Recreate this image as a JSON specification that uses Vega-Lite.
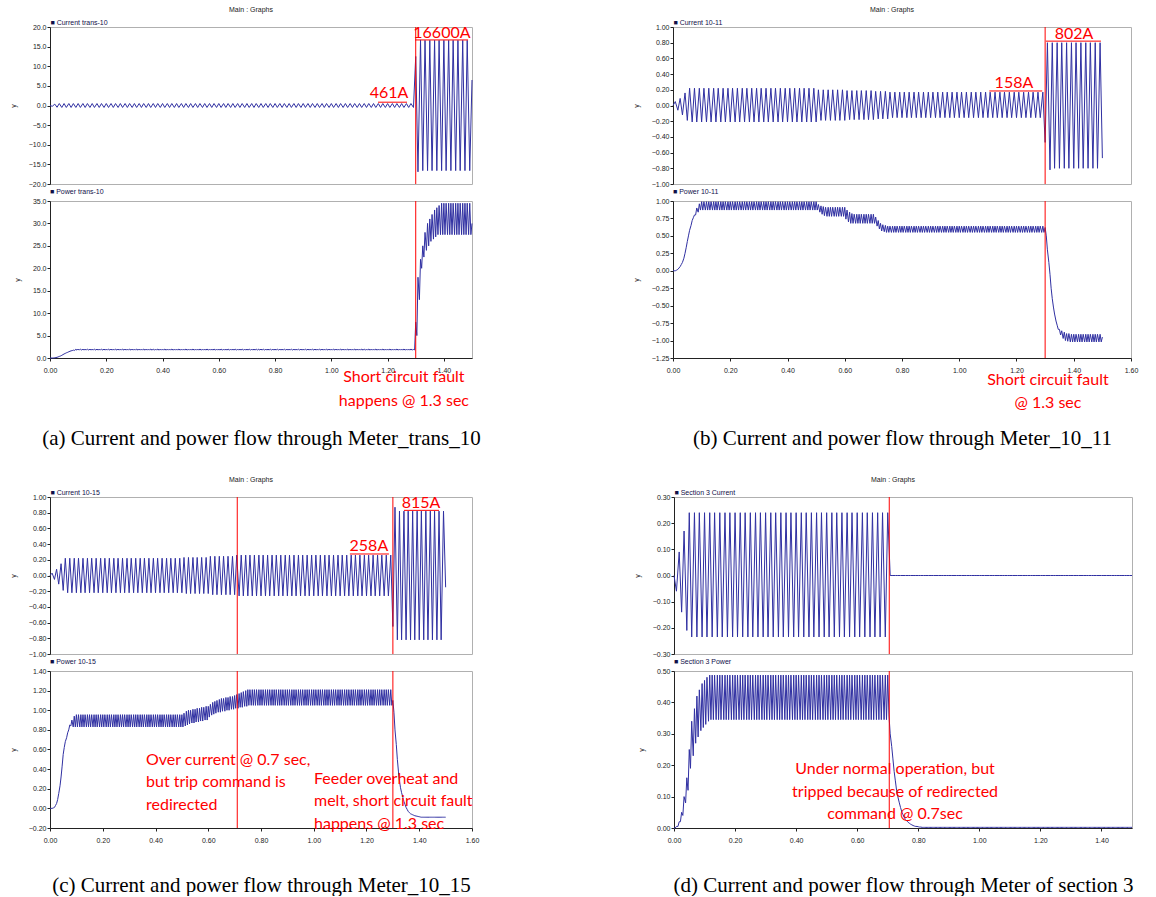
{"$schema":"https://vega.github.io/schema/vega-lite/v6.json","background":"white","padding":{"left":8,"top":5,"right":5,"bottom":0},
"config":{"view":{"stroke":"#b0b0b0","strokeWidth":1},
"axis":{"labelFont":"Liberation Sans","labelFontSize":7,"labelColor":"#222","titleFont":"Liberation Sans","titleFontSize":7,"titleFontWeight":"normal","titleColor":"#222","domainColor":"#222","tickColor":"#222","tickSize":3,"grid":false,"labelOverlap":false,"labelFlush":false},
"axisY":{"labelPadding":1,"titlePadding":12},"axisX":{"labelPadding":5},
"title":{"font":"Liberation Sans","fontSize":7,"fontWeight":"normal","color":"#222","offset":2,"frame":"group"},
"line":{"color":"#3030a2","strokeWidth":1},"text":{"font":"Lato","fontSize":16,"color":"#ff0000"},"rule":{"color":"#ff0000","strokeWidth":1}},
"datasets":{"cur":[
{"t":0,"a":0,"b":0,"c":0,"d":0},
{"t":0.008,"a":-0.2,"b":0.05,"c":0.03,"d":-0.06},
{"t":0.017,"a":0.35,"b":-0.06,"c":-0.05,"d":0.09},
{"t":0.025,"a":-0.45,"b":0.09,"c":0.08,"d":-0.14},
{"t":0.033,"a":0.5,"b":-0.12,"c":-0.11,"d":0.17},
{"t":0.042,"a":-0.5,"b":0.16,"c":0.15,"d":-0.21},
{"t":0.05,"a":0.5,"b":-0.19,"c":-0.19,"d":0.24},
{"t":0.058,"a":-0.5,"b":0.22,"c":0.22,"d":-0.235},
{"t":0.067,"a":0.5,"b":-0.21,"c":-0.22,"d":0.24},
{"t":0.075,"a":-0.5,"b":0.22,"c":0.22,"d":-0.235},
{"t":0.083,"a":0.5,"b":-0.21,"c":-0.22,"d":0.24},
{"t":0.092,"a":-0.5,"b":0.22,"c":0.22,"d":-0.235},
{"t":0.1,"a":0.5,"b":-0.21,"c":-0.22,"d":0.24},
{"t":0.108,"a":-0.5,"b":0.22,"c":0.22,"d":-0.235},
{"t":0.117,"a":0.5,"b":-0.21,"c":-0.22,"d":0.24},
{"t":0.125,"a":-0.5,"b":0.22,"c":0.22,"d":-0.235},
{"t":0.133,"a":0.5,"b":-0.21,"c":-0.22,"d":0.24},
{"t":0.142,"a":-0.5,"b":0.22,"c":0.22,"d":-0.235},
{"t":0.15,"a":0.5,"b":-0.21,"c":-0.22,"d":0.24},
{"t":0.158,"a":-0.5,"b":0.22,"c":0.22,"d":-0.235},
{"t":0.167,"a":0.5,"b":-0.21,"c":-0.22,"d":0.24},
{"t":0.175,"a":-0.5,"b":0.22,"c":0.22,"d":-0.235},
{"t":0.183,"a":0.5,"b":-0.21,"c":-0.22,"d":0.24},
{"t":0.192,"a":-0.5,"b":0.22,"c":0.22,"d":-0.235},
{"t":0.2,"a":0.5,"b":-0.21,"c":-0.22,"d":0.24},
{"t":0.208,"a":-0.5,"b":0.22,"c":0.22,"d":-0.235},
{"t":0.217,"a":0.5,"b":-0.21,"c":-0.22,"d":0.24},
{"t":0.225,"a":-0.5,"b":0.22,"c":0.22,"d":-0.235},
{"t":0.233,"a":0.5,"b":-0.21,"c":-0.22,"d":0.24},
{"t":0.242,"a":-0.5,"b":0.22,"c":0.22,"d":-0.235},
{"t":0.25,"a":0.5,"b":-0.21,"c":-0.22,"d":0.24},
{"t":0.258,"a":-0.5,"b":0.22,"c":0.22,"d":-0.235},
{"t":0.267,"a":0.5,"b":-0.21,"c":-0.22,"d":0.24},
{"t":0.275,"a":-0.5,"b":0.22,"c":0.22,"d":-0.235},
{"t":0.283,"a":0.5,"b":-0.21,"c":-0.22,"d":0.24},
{"t":0.292,"a":-0.5,"b":0.22,"c":0.22,"d":-0.235},
{"t":0.3,"a":0.5,"b":-0.21,"c":-0.22,"d":0.24},
{"t":0.308,"a":-0.5,"b":0.22,"c":0.22,"d":-0.235},
{"t":0.317,"a":0.5,"b":-0.21,"c":-0.22,"d":0.24},
{"t":0.325,"a":-0.5,"b":0.22,"c":0.22,"d":-0.235},
{"t":0.333,"a":0.5,"b":-0.21,"c":-0.22,"d":0.24},
{"t":0.342,"a":-0.5,"b":0.22,"c":0.22,"d":-0.235},
{"t":0.35,"a":0.5,"b":-0.21,"c":-0.22,"d":0.24},
{"t":0.358,"a":-0.5,"b":0.22,"c":0.22,"d":-0.235},
{"t":0.367,"a":0.5,"b":-0.21,"c":-0.22,"d":0.24},
{"t":0.375,"a":-0.5,"b":0.22,"c":0.22,"d":-0.235},
{"t":0.383,"a":0.5,"b":-0.21,"c":-0.22,"d":0.24},
{"t":0.392,"a":-0.5,"b":0.22,"c":0.22,"d":-0.235},
{"t":0.4,"a":0.5,"b":-0.21,"c":-0.22,"d":0.24},
{"t":0.408,"a":-0.5,"b":0.22,"c":0.22,"d":-0.235},
{"t":0.417,"a":0.5,"b":-0.21,"c":-0.22,"d":0.24},
{"t":0.425,"a":-0.5,"b":0.22,"c":0.22,"d":-0.235},
{"t":0.433,"a":0.5,"b":-0.21,"c":-0.22,"d":0.24},
{"t":0.442,"a":-0.5,"b":0.22,"c":0.22,"d":-0.235},
{"t":0.45,"a":0.5,"b":-0.21,"c":-0.22,"d":0.24},
{"t":0.458,"a":-0.5,"b":0.22,"c":0.22,"d":-0.235},
{"t":0.467,"a":0.5,"b":-0.21,"c":-0.22,"d":0.24},
{"t":0.475,"a":-0.5,"b":0.22,"c":0.22,"d":-0.235},
{"t":0.483,"a":0.5,"b":-0.21,"c":-0.22,"d":0.24},
{"t":0.492,"a":-0.5,"b":0.22,"c":0.22,"d":-0.235},
{"t":0.5,"a":0.5,"b":-0.21,"c":-0.22,"d":0.24},
{"t":0.508,"a":-0.5,"b":0.2,"c":0.23,"d":-0.235},
{"t":0.517,"a":0.5,"b":-0.19,"c":-0.23,"d":0.24},
{"t":0.525,"a":-0.5,"b":0.2,"c":0.23,"d":-0.235},
{"t":0.533,"a":0.5,"b":-0.19,"c":-0.23,"d":0.24},
{"t":0.542,"a":-0.5,"b":0.2,"c":0.23,"d":-0.235},
{"t":0.55,"a":0.5,"b":-0.19,"c":-0.23,"d":0.24},
{"t":0.558,"a":-0.5,"b":0.2,"c":0.23,"d":-0.235},
{"t":0.567,"a":0.5,"b":-0.19,"c":-0.23,"d":0.24},
{"t":0.575,"a":-0.5,"b":0.2,"c":0.23,"d":-0.235},
{"t":0.583,"a":0.5,"b":-0.19,"c":-0.23,"d":0.24},
{"t":0.592,"a":-0.5,"b":0.2,"c":0.23,"d":-0.235},
{"t":0.6,"a":0.5,"b":-0.19,"c":-0.23,"d":0.24},
{"t":0.608,"a":-0.5,"b":0.19,"c":0.245,"d":-0.235},
{"t":0.617,"a":0.5,"b":-0.18,"c":-0.245,"d":0.24},
{"t":0.625,"a":-0.5,"b":0.19,"c":0.245,"d":-0.235},
{"t":0.633,"a":0.5,"b":-0.18,"c":-0.245,"d":0.24},
{"t":0.642,"a":-0.5,"b":0.19,"c":0.245,"d":-0.235},
{"t":0.65,"a":0.5,"b":-0.18,"c":-0.245,"d":0.24},
{"t":0.658,"a":-0.5,"b":0.19,"c":0.245,"d":-0.235},
{"t":0.667,"a":0.5,"b":-0.18,"c":-0.245,"d":0.24},
{"t":0.675,"a":-0.5,"b":0.19,"c":0.245,"d":-0.235},
{"t":0.683,"a":0.5,"b":-0.18,"c":-0.245,"d":0.24},
{"t":0.692,"a":-0.5,"b":0.19,"c":0.245,"d":-0.235},
{"t":0.7,"a":0.5,"b":-0.18,"c":-0.245,"d":0.24},
{"t":0.708,"a":-0.5,"b":0.18,"c":0.26,"d":0},
{"t":0.717,"a":0.5,"b":-0.17,"c":-0.26,"d":0},
{"t":0.725,"a":-0.5,"b":0.18,"c":0.26,"d":0},
{"t":0.733,"a":0.5,"b":-0.17,"c":-0.26,"d":0},
{"t":0.742,"a":-0.5,"b":0.18,"c":0.26,"d":0},
{"t":0.75,"a":0.5,"b":-0.17,"c":-0.26,"d":0},
{"t":0.758,"a":-0.5,"b":0.17,"c":0.26,"d":0},
{"t":0.767,"a":0.5,"b":-0.155,"c":-0.26,"d":0},
{"t":0.775,"a":-0.5,"b":0.17,"c":0.26,"d":0},
{"t":0.783,"a":0.5,"b":-0.155,"c":-0.26,"d":0},
{"t":0.792,"a":-0.5,"b":0.17,"c":0.26,"d":0},
{"t":0.8,"a":0.5,"b":-0.155,"c":-0.26,"d":0},
{"t":0.808,"a":-0.5,"b":0.17,"c":0.26,"d":0},
{"t":0.817,"a":0.5,"b":-0.155,"c":-0.26,"d":0},
{"t":0.825,"a":-0.5,"b":0.17,"c":0.26,"d":0},
{"t":0.833,"a":0.5,"b":-0.155,"c":-0.26,"d":0},
{"t":0.842,"a":-0.5,"b":0.17,"c":0.26,"d":0},
{"t":0.85,"a":0.5,"b":-0.155,"c":-0.26,"d":0},
{"t":0.858,"a":-0.5,"b":0.17,"c":0.26,"d":0},
{"t":0.867,"a":0.5,"b":-0.155,"c":-0.26,"d":0},
{"t":0.875,"a":-0.5,"b":0.17,"c":0.26,"d":0},
{"t":0.883,"a":0.5,"b":-0.155,"c":-0.26,"d":0},
{"t":0.892,"a":-0.5,"b":0.17,"c":0.26,"d":0},
{"t":0.9,"a":0.5,"b":-0.155,"c":-0.26,"d":0},
{"t":0.908,"a":-0.5,"b":0.17,"c":0.26,"d":0},
{"t":0.917,"a":0.5,"b":-0.155,"c":-0.26,"d":0},
{"t":0.925,"a":-0.5,"b":0.17,"c":0.26,"d":0},
{"t":0.933,"a":0.5,"b":-0.155,"c":-0.26,"d":0},
{"t":0.942,"a":-0.5,"b":0.17,"c":0.26,"d":0},
{"t":0.95,"a":0.5,"b":-0.155,"c":-0.26,"d":0},
{"t":0.958,"a":-0.5,"b":0.17,"c":0.26,"d":0},
{"t":0.967,"a":0.5,"b":-0.155,"c":-0.26,"d":0},
{"t":0.975,"a":-0.5,"b":0.17,"c":0.26,"d":0},
{"t":0.983,"a":0.5,"b":-0.155,"c":-0.26,"d":0},
{"t":0.992,"a":-0.5,"b":0.17,"c":0.26,"d":0},
{"t":1,"a":0.5,"b":-0.155,"c":-0.26,"d":0},
{"t":1.008,"a":-0.5,"b":0.17,"c":0.26,"d":0},
{"t":1.017,"a":0.5,"b":-0.155,"c":-0.26,"d":0},
{"t":1.025,"a":-0.5,"b":0.17,"c":0.26,"d":0},
{"t":1.033,"a":0.5,"b":-0.155,"c":-0.26,"d":0},
{"t":1.042,"a":-0.5,"b":0.17,"c":0.26,"d":0},
{"t":1.05,"a":0.5,"b":-0.155,"c":-0.26,"d":0},
{"t":1.058,"a":-0.5,"b":0.17,"c":0.26,"d":0},
{"t":1.067,"a":0.5,"b":-0.155,"c":-0.26,"d":0},
{"t":1.075,"a":-0.5,"b":0.17,"c":0.26,"d":0},
{"t":1.083,"a":0.5,"b":-0.155,"c":-0.26,"d":0},
{"t":1.092,"a":-0.5,"b":0.17,"c":0.26,"d":0},
{"t":1.1,"a":0.5,"b":-0.155,"c":-0.26,"d":0},
{"t":1.108,"a":-0.5,"b":0.17,"c":0.26,"d":0},
{"t":1.117,"a":0.5,"b":-0.155,"c":-0.26,"d":0},
{"t":1.125,"a":-0.5,"b":0.17,"c":0.26,"d":0},
{"t":1.133,"a":0.5,"b":-0.155,"c":-0.26,"d":0},
{"t":1.142,"a":-0.5,"b":0.17,"c":0.26,"d":0},
{"t":1.15,"a":0.5,"b":-0.155,"c":-0.26,"d":0},
{"t":1.158,"a":-0.5,"b":0.17,"c":0.26,"d":0},
{"t":1.167,"a":0.5,"b":-0.155,"c":-0.26,"d":0},
{"t":1.175,"a":-0.5,"b":0.17,"c":0.26,"d":0},
{"t":1.183,"a":0.5,"b":-0.155,"c":-0.26,"d":0},
{"t":1.192,"a":-0.5,"b":0.17,"c":0.26,"d":0},
{"t":1.2,"a":0.5,"b":-0.155,"c":-0.26,"d":0},
{"t":1.208,"a":-0.5,"b":0.17,"c":0.26,"d":0},
{"t":1.217,"a":0.5,"b":-0.155,"c":-0.26,"d":0},
{"t":1.225,"a":-0.5,"b":0.17,"c":0.26,"d":0},
{"t":1.233,"a":0.5,"b":-0.155,"c":-0.26,"d":0},
{"t":1.242,"a":-0.5,"b":0.17,"c":0.26,"d":0},
{"t":1.25,"a":0.5,"b":-0.155,"c":-0.26,"d":0},
{"t":1.258,"a":-0.5,"b":0.17,"c":0.26,"d":0},
{"t":1.267,"a":0.5,"b":-0.155,"c":-0.26,"d":0},
{"t":1.275,"a":-0.5,"b":0.17,"c":0.26,"d":0},
{"t":1.283,"a":0.5,"b":-0.155,"c":-0.26,"d":0},
{"t":1.292,"a":-0.5,"b":0.17,"c":0.26,"d":0},
{"t":1.3,"a":12.5,"b":-0.47,"c":-0.65,"d":0},
{"t":1.308,"a":-16.9,"b":0.8,"c":0.87,"d":0},
{"t":1.317,"a":16.7,"b":-0.82,"c":-0.82,"d":0},
{"t":1.325,"a":-16.6,"b":0.8,"c":0.82,"d":0},
{"t":1.333,"a":16.6,"b":-0.8,"c":-0.82,"d":0},
{"t":1.342,"a":-16.6,"b":0.8,"c":0.82,"d":0},
{"t":1.35,"a":16.6,"b":-0.8,"c":-0.82,"d":0},
{"t":1.358,"a":-16.6,"b":0.8,"c":0.82,"d":0},
{"t":1.367,"a":16.6,"b":-0.8,"c":-0.82,"d":0},
{"t":1.375,"a":-16.6,"b":0.8,"c":0.82,"d":0},
{"t":1.383,"a":16.6,"b":-0.8,"c":-0.82,"d":0},
{"t":1.392,"a":-16.6,"b":0.8,"c":0.82,"d":0},
{"t":1.4,"a":16.6,"b":-0.8,"c":-0.82,"d":0},
{"t":1.408,"a":-16.6,"b":0.8,"c":0.82,"d":0},
{"t":1.417,"a":16.6,"b":-0.8,"c":-0.82,"d":0},
{"t":1.425,"a":-16.6,"b":0.8,"c":0.82,"d":0},
{"t":1.433,"a":16.6,"b":-0.8,"c":-0.82,"d":0},
{"t":1.442,"a":-16.6,"b":0.8,"c":0.82,"d":0},
{"t":1.45,"a":16.6,"b":-0.8,"c":-0.82,"d":0},
{"t":1.458,"a":-16.6,"b":0.8,"c":0.82,"d":0},
{"t":1.467,"a":16.6,"b":-0.8,"c":-0.82,"d":0},
{"t":1.475,"a":-16.6,"b":0.8,"c":0.82,"d":0},
{"t":1.483,"a":16.6,"b":-0.8,"c":-0.82,"d":0},
{"t":1.492,"a":-16.6,"b":0.8,"c":0.82,"d":0},
{"t":1.5,"a":6.5,"b":-0.67,"c":-0.15,"d":0}
],
"pw":[
{"t":0,"p":0,"q":0,"r":0,"s":0},
{"t":0.004,"p":0,"q":0,"r":0,"s":0},
{"t":0.008,"p":0,"q":0,"r":0,"s":0.005},
{"t":0.013,"p":0.02,"q":0.01,"r":0.005,"s":0.005},
{"t":0.017,"p":0.05,"q":0.02,"r":0.01,"s":0.02},
{"t":0.021,"p":0.1,"q":0.04,"r":0.03,"s":0.02},
{"t":0.025,"p":0.15,"q":0.06,"r":0.05,"s":0.05},
{"t":0.029,"p":0.25,"q":0.09,"r":0.09,"s":0.04},
{"t":0.033,"p":0.35,"q":0.12,"r":0.15,"s":0.1},
{"t":0.038,"p":0.47,"q":0.18,"r":0.23,"s":0.08},
{"t":0.042,"p":0.6,"q":0.25,"r":0.32,"s":0.16},
{"t":0.046,"p":0.75,"q":0.33,"r":0.43,"s":0.12},
{"t":0.05,"p":0.9,"q":0.42,"r":0.55,"s":0.25},
{"t":0.054,"p":1.02,"q":0.5,"r":0.62,"s":0.19},
{"t":0.058,"p":1.15,"q":0.58,"r":0.68,"s":0.34},
{"t":0.063,"p":1.27,"q":0.65,"r":0.72,"s":0.23},
{"t":0.067,"p":1.4,"q":0.72,"r":0.77,"s":0.38},
{"t":0.071,"p":1.5,"q":0.76,"r":0.8,"s":0.27},
{"t":0.075,"p":1.6,"q":0.8,"r":0.85,"s":0.42},
{"t":0.079,"p":1.65,"q":0.8,"r":0.84,"s":0.29},
{"t":0.083,"p":1.75,"q":0.9,"r":0.9,"s":0.44},
{"t":0.088,"p":1.7,"q":0.84,"r":0.83,"s":0.31},
{"t":0.092,"p":1.95,"q":0.96,"r":0.94,"s":0.46},
{"t":0.096,"p":1.75,"q":0.87,"r":0.83,"s":0.32},
{"t":0.1,"p":2,"q":0.99,"r":0.955,"s":0.47},
{"t":0.104,"p":1.75,"q":0.87,"r":0.83,"s":0.33},
{"t":0.108,"p":2,"q":0.99,"r":0.955,"s":0.48},
{"t":0.113,"p":1.75,"q":0.87,"r":0.83,"s":0.34},
{"t":0.117,"p":2,"q":0.99,"r":0.955,"s":0.487},{"t":0.121,"p":1.75,"q":0.87,"r":0.83,"s":0.345},
{"t":0.125,"p":2,"q":0.99,"r":0.955,"s":0.487},{"t":0.129,"p":1.75,"q":0.87,"r":0.83,"s":0.345},
{"t":0.133,"p":2,"q":0.99,"r":0.955,"s":0.487},{"t":0.138,"p":1.75,"q":0.87,"r":0.83,"s":0.345},
{"t":0.142,"p":2,"q":0.99,"r":0.955,"s":0.487},{"t":0.146,"p":1.75,"q":0.87,"r":0.83,"s":0.345},
{"t":0.15,"p":2,"q":0.99,"r":0.955,"s":0.487},{"t":0.154,"p":1.75,"q":0.87,"r":0.83,"s":0.345},
{"t":0.158,"p":2,"q":0.99,"r":0.955,"s":0.487},{"t":0.163,"p":1.75,"q":0.87,"r":0.83,"s":0.345},
{"t":0.167,"p":2,"q":0.99,"r":0.955,"s":0.487},{"t":0.171,"p":1.75,"q":0.87,"r":0.83,"s":0.345},
{"t":0.175,"p":2,"q":0.99,"r":0.955,"s":0.487},{"t":0.179,"p":1.75,"q":0.87,"r":0.83,"s":0.345},
{"t":0.183,"p":2,"q":0.99,"r":0.955,"s":0.487},{"t":0.188,"p":1.75,"q":0.87,"r":0.83,"s":0.345},
{"t":0.192,"p":2,"q":0.99,"r":0.955,"s":0.487},{"t":0.196,"p":1.75,"q":0.87,"r":0.83,"s":0.345},
{"t":0.2,"p":2,"q":0.99,"r":0.955,"s":0.487},{"t":0.204,"p":1.75,"q":0.87,"r":0.83,"s":0.345},
{"t":0.208,"p":2,"q":0.99,"r":0.955,"s":0.487},{"t":0.213,"p":1.75,"q":0.87,"r":0.83,"s":0.345},
{"t":0.217,"p":2,"q":0.99,"r":0.955,"s":0.487},{"t":0.221,"p":1.75,"q":0.87,"r":0.83,"s":0.345},
{"t":0.225,"p":2,"q":0.99,"r":0.955,"s":0.487},{"t":0.229,"p":1.75,"q":0.87,"r":0.83,"s":0.345},
{"t":0.233,"p":2,"q":0.99,"r":0.955,"s":0.487},{"t":0.238,"p":1.75,"q":0.87,"r":0.83,"s":0.345},
{"t":0.242,"p":2,"q":0.99,"r":0.955,"s":0.487},{"t":0.246,"p":1.75,"q":0.87,"r":0.83,"s":0.345},
{"t":0.25,"p":2,"q":0.99,"r":0.955,"s":0.487},{"t":0.254,"p":1.75,"q":0.87,"r":0.83,"s":0.345},
{"t":0.258,"p":2,"q":0.99,"r":0.955,"s":0.487},{"t":0.263,"p":1.75,"q":0.87,"r":0.83,"s":0.345},
{"t":0.267,"p":2,"q":0.99,"r":0.955,"s":0.487},{"t":0.271,"p":1.75,"q":0.87,"r":0.83,"s":0.345},
{"t":0.275,"p":2,"q":0.99,"r":0.955,"s":0.487},{"t":0.279,"p":1.75,"q":0.87,"r":0.83,"s":0.345},
{"t":0.283,"p":2,"q":0.99,"r":0.955,"s":0.487},{"t":0.288,"p":1.75,"q":0.87,"r":0.83,"s":0.345},
{"t":0.292,"p":2,"q":0.99,"r":0.955,"s":0.487},{"t":0.296,"p":1.75,"q":0.87,"r":0.83,"s":0.345},
{"t":0.3,"p":2,"q":0.99,"r":0.955,"s":0.487},{"t":0.304,"p":1.75,"q":0.87,"r":0.83,"s":0.345},
{"t":0.308,"p":2,"q":0.99,"r":0.955,"s":0.487},{"t":0.313,"p":1.75,"q":0.87,"r":0.83,"s":0.345},
{"t":0.317,"p":2,"q":0.99,"r":0.955,"s":0.487},{"t":0.321,"p":1.75,"q":0.87,"r":0.83,"s":0.345},
{"t":0.325,"p":2,"q":0.99,"r":0.955,"s":0.487},{"t":0.329,"p":1.75,"q":0.87,"r":0.83,"s":0.345},
{"t":0.333,"p":2,"q":0.99,"r":0.955,"s":0.487},{"t":0.338,"p":1.75,"q":0.87,"r":0.83,"s":0.345},
{"t":0.342,"p":2,"q":0.99,"r":0.955,"s":0.487},{"t":0.346,"p":1.75,"q":0.87,"r":0.83,"s":0.345},
{"t":0.35,"p":2,"q":0.99,"r":0.955,"s":0.487},{"t":0.354,"p":1.75,"q":0.87,"r":0.83,"s":0.345},
{"t":0.358,"p":2,"q":0.99,"r":0.955,"s":0.487},{"t":0.363,"p":1.75,"q":0.87,"r":0.83,"s":0.345},
{"t":0.367,"p":2,"q":0.99,"r":0.955,"s":0.487},{"t":0.371,"p":1.75,"q":0.87,"r":0.83,"s":0.345},
{"t":0.375,"p":2,"q":0.99,"r":0.955,"s":0.487},{"t":0.379,"p":1.75,"q":0.87,"r":0.83,"s":0.345},
{"t":0.383,"p":2,"q":0.99,"r":0.955,"s":0.487},{"t":0.388,"p":1.75,"q":0.87,"r":0.83,"s":0.345},
{"t":0.392,"p":2,"q":0.99,"r":0.955,"s":0.487},{"t":0.396,"p":1.75,"q":0.87,"r":0.83,"s":0.345},
{"t":0.4,"p":2,"q":0.99,"r":0.955,"s":0.487},{"t":0.404,"p":1.75,"q":0.87,"r":0.83,"s":0.345},
{"t":0.408,"p":2,"q":0.99,"r":0.955,"s":0.487},{"t":0.413,"p":1.75,"q":0.87,"r":0.83,"s":0.345},
{"t":0.417,"p":2,"q":0.99,"r":0.955,"s":0.487},{"t":0.421,"p":1.75,"q":0.87,"r":0.83,"s":0.345},
{"t":0.425,"p":2,"q":0.99,"r":0.955,"s":0.487},{"t":0.429,"p":1.75,"q":0.87,"r":0.83,"s":0.345},
{"t":0.433,"p":2,"q":0.99,"r":0.955,"s":0.487},{"t":0.438,"p":1.75,"q":0.87,"r":0.83,"s":0.345},
{"t":0.442,"p":2,"q":0.99,"r":0.955,"s":0.487},{"t":0.446,"p":1.75,"q":0.87,"r":0.83,"s":0.345},
{"t":0.45,"p":2,"q":0.99,"r":0.955,"s":0.487},{"t":0.454,"p":1.75,"q":0.87,"r":0.83,"s":0.345},
{"t":0.458,"p":2,"q":0.99,"r":0.955,"s":0.487},{"t":0.463,"p":1.75,"q":0.87,"r":0.83,"s":0.345},
{"t":0.467,"p":2,"q":0.99,"r":0.955,"s":0.487},{"t":0.471,"p":1.75,"q":0.87,"r":0.83,"s":0.345},
{"t":0.475,"p":2,"q":0.99,"r":0.955,"s":0.487},{"t":0.479,"p":1.75,"q":0.87,"r":0.83,"s":0.345},
{"t":0.483,"p":2,"q":0.99,"r":0.955,"s":0.487},{"t":0.488,"p":1.75,"q":0.87,"r":0.83,"s":0.345},
{"t":0.492,"p":2,"q":0.99,"r":0.955,"s":0.487},{"t":0.496,"p":1.75,"q":0.87,"r":0.83,"s":0.345},
{"t":0.5,"p":2,"q":0.99,"r":0.955,"s":0.487},{"t":0.504,"p":1.75,"q":0.87,"r":0.83,"s":0.345},
{"t":0.508,"p":2,"q":0.95,"r":0.97,"s":0.487},{"t":0.513,"p":1.75,"q":0.84,"r":0.84,"s":0.345},
{"t":0.517,"p":2,"q":0.93,"r":0.99,"s":0.487},{"t":0.521,"p":1.75,"q":0.81,"r":0.85,"s":0.345},
{"t":0.525,"p":2,"q":0.92,"r":1,"s":0.487},{"t":0.529,"p":1.75,"q":0.79,"r":0.86,"s":0.345},
{"t":0.533,"p":2,"q":0.91,"r":1,"s":0.487},{"t":0.538,"p":1.75,"q":0.78,"r":0.87,"s":0.345},
{"t":0.542,"p":2,"q":0.91,"r":1.01,"s":0.487},{"t":0.546,"p":1.75,"q":0.78,"r":0.87,"s":0.345},
{"t":0.55,"p":2,"q":0.91,"r":1.01,"s":0.487},{"t":0.554,"p":1.75,"q":0.78,"r":0.88,"s":0.345},
{"t":0.558,"p":2,"q":0.91,"r":1.02,"s":0.487},{"t":0.563,"p":1.75,"q":0.78,"r":0.88,"s":0.345},
{"t":0.567,"p":2,"q":0.91,"r":1.02,"s":0.487},{"t":0.571,"p":1.75,"q":0.78,"r":0.89,"s":0.345},
{"t":0.575,"p":2,"q":0.91,"r":1.03,"s":0.487},{"t":0.579,"p":1.75,"q":0.78,"r":0.89,"s":0.345},
{"t":0.583,"p":2,"q":0.91,"r":1.03,"s":0.487},{"t":0.588,"p":1.75,"q":0.78,"r":0.9,"s":0.345},
{"t":0.592,"p":2,"q":0.91,"r":1.04,"s":0.487},{"t":0.596,"p":1.75,"q":0.78,"r":0.9,"s":0.345},
{"t":0.6,"p":2,"q":0.91,"r":1.04,"s":0.487},{"t":0.604,"p":1.75,"q":0.74,"r":0.93,"s":0.345},
{"t":0.608,"p":2,"q":0.87,"r":1.06,"s":0.487},{"t":0.613,"p":1.75,"q":0.7,"r":0.95,"s":0.345},
{"t":0.617,"p":2,"q":0.84,"r":1.08,"s":0.487},{"t":0.621,"p":1.75,"q":0.68,"r":0.96,"s":0.345},
{"t":0.625,"p":2,"q":0.82,"r":1.09,"s":0.487},{"t":0.629,"p":1.75,"q":0.68,"r":0.97,"s":0.345},
{"t":0.633,"p":2,"q":0.81,"r":1.1,"s":0.487},{"t":0.638,"p":1.75,"q":0.68,"r":0.98,"s":0.345},
{"t":0.642,"p":2,"q":0.81,"r":1.11,"s":0.487},{"t":0.646,"p":1.75,"q":0.68,"r":0.98,"s":0.345},
{"t":0.65,"p":2,"q":0.81,"r":1.12,"s":0.487},{"t":0.654,"p":1.75,"q":0.68,"r":0.99,"s":0.345},
{"t":0.658,"p":2,"q":0.81,"r":1.12,"s":0.487},{"t":0.663,"p":1.75,"q":0.68,"r":0.99,"s":0.345},
{"t":0.667,"p":2,"q":0.81,"r":1.13,"s":0.487},{"t":0.671,"p":1.75,"q":0.68,"r":1,"s":0.345},
{"t":0.675,"p":2,"q":0.81,"r":1.13,"s":0.487},{"t":0.679,"p":1.75,"q":0.68,"r":1,"s":0.345},
{"t":0.683,"p":2,"q":0.81,"r":1.14,"s":0.487},{"t":0.688,"p":1.75,"q":0.68,"r":1.01,"s":0.345},
{"t":0.692,"p":2,"q":0.81,"r":1.14,"s":0.487},{"t":0.696,"p":1.75,"q":0.68,"r":1.01,"s":0.345},
{"t":0.7,"p":2,"q":0.81,"r":1.15,"s":0.487},{"t":0.704,"p":1.75,"q":0.68,"r":1.02,"s":0.36},
{"t":0.708,"p":2,"q":0.77,"r":1.16,"s":0.3},{"t":0.713,"p":1.75,"q":0.64,"r":1.02,"s":0.26},
{"t":0.717,"p":2,"q":0.72,"r":1.17,"s":0.22},{"t":0.721,"p":1.75,"q":0.6,"r":1.03,"s":0.18},
{"t":0.725,"p":2,"q":0.68,"r":1.18,"s":0.15},{"t":0.729,"p":1.75,"q":0.57,"r":1.03,"s":0.12},
{"t":0.733,"p":2,"q":0.66,"r":1.19,"s":0.1},{"t":0.738,"p":1.75,"q":0.56,"r":1.04,"s":0.08},
{"t":0.742,"p":2,"q":0.65,"r":1.2,"s":0.065},{"t":0.746,"p":1.75,"q":0.55,"r":1.04,"s":0.052},
{"t":0.75,"p":2,"q":0.64,"r":1.21,"s":0.042},{"t":0.754,"p":1.75,"q":0.55,"r":1.05,"s":0.034},
{"t":0.758,"p":2,"q":0.64,"r":1.21,"s":0.027},{"t":0.763,"p":1.75,"q":0.55,"r":1.05,"s":0.022},
{"t":0.767,"p":2,"q":0.64,"r":1.21,"s":0.018},{"t":0.771,"p":1.75,"q":0.55,"r":1.05,"s":0.015},
{"t":0.775,"p":2,"q":0.64,"r":1.21,"s":0.012},{"t":0.779,"p":1.75,"q":0.55,"r":1.05,"s":0.01},
{"t":0.783,"p":2,"q":0.64,"r":1.21,"s":0.008},{"t":0.788,"p":1.75,"q":0.55,"r":1.05,"s":0.006},
{"t":0.792,"p":2,"q":0.64,"r":1.21,"s":0.005},{"t":0.796,"p":1.75,"q":0.55,"r":1.05,"s":0.005},
{"t":0.8,"p":2,"q":0.64,"r":1.21,"s":0.004},{"t":0.804,"p":1.75,"q":0.55,"r":1.05,"s":0.003},
{"t":0.808,"p":2,"q":0.64,"r":1.21,"s":0.003},{"t":0.813,"p":1.75,"q":0.55,"r":1.05,"s":0.002},
{"t":0.817,"p":2,"q":0.64,"r":1.21,"s":0.002},{"t":0.821,"p":1.75,"q":0.55,"r":1.05,"s":0.002},
{"t":0.825,"p":2,"q":0.64,"r":1.21,"s":0.002},{"t":0.829,"p":1.75,"q":0.55,"r":1.05,"s":0.002},
{"t":0.833,"p":2,"q":0.64,"r":1.21,"s":0.002},{"t":0.838,"p":1.75,"q":0.55,"r":1.05,"s":0.002},
{"t":0.842,"p":2,"q":0.64,"r":1.21,"s":0.002},{"t":0.846,"p":1.75,"q":0.55,"r":1.05,"s":0.002},
{"t":0.85,"p":2,"q":0.64,"r":1.21,"s":0.002},{"t":0.854,"p":1.75,"q":0.55,"r":1.05,"s":0.002},
{"t":0.858,"p":2,"q":0.64,"r":1.21,"s":0.002},{"t":0.863,"p":1.75,"q":0.55,"r":1.05,"s":0.002},
{"t":0.867,"p":2,"q":0.64,"r":1.21,"s":0.002},{"t":0.871,"p":1.75,"q":0.55,"r":1.05,"s":0.002},
{"t":0.875,"p":2,"q":0.64,"r":1.21,"s":0.002},{"t":0.879,"p":1.75,"q":0.55,"r":1.05,"s":0.002},
{"t":0.883,"p":2,"q":0.64,"r":1.21,"s":0.002},{"t":0.888,"p":1.75,"q":0.55,"r":1.05,"s":0.002},
{"t":0.892,"p":2,"q":0.64,"r":1.21,"s":0.002},{"t":0.896,"p":1.75,"q":0.55,"r":1.05,"s":0.002},
{"t":0.9,"p":2,"q":0.64,"r":1.21,"s":0.002},{"t":0.904,"p":1.75,"q":0.55,"r":1.05,"s":0.002},
{"t":0.908,"p":2,"q":0.64,"r":1.21,"s":0.002},{"t":0.913,"p":1.75,"q":0.55,"r":1.05,"s":0.002},
{"t":0.917,"p":2,"q":0.64,"r":1.21,"s":0.002},{"t":0.921,"p":1.75,"q":0.55,"r":1.05,"s":0.002},
{"t":0.925,"p":2,"q":0.64,"r":1.21,"s":0.002},{"t":0.929,"p":1.75,"q":0.55,"r":1.05,"s":0.002},
{"t":0.933,"p":2,"q":0.64,"r":1.21,"s":0.002},{"t":0.938,"p":1.75,"q":0.55,"r":1.05,"s":0.002},
{"t":0.942,"p":2,"q":0.64,"r":1.21,"s":0.002},{"t":0.946,"p":1.75,"q":0.55,"r":1.05,"s":0.002},
{"t":0.95,"p":2,"q":0.64,"r":1.21,"s":0.002},{"t":0.954,"p":1.75,"q":0.55,"r":1.05,"s":0.002},
{"t":0.958,"p":2,"q":0.64,"r":1.21,"s":0.002},{"t":0.963,"p":1.75,"q":0.55,"r":1.05,"s":0.002},
{"t":0.967,"p":2,"q":0.64,"r":1.21,"s":0.002},{"t":0.971,"p":1.75,"q":0.55,"r":1.05,"s":0.002},
{"t":0.975,"p":2,"q":0.64,"r":1.21,"s":0.002},{"t":0.979,"p":1.75,"q":0.55,"r":1.05,"s":0.002},
{"t":0.983,"p":2,"q":0.64,"r":1.21,"s":0.002},{"t":0.988,"p":1.75,"q":0.55,"r":1.05,"s":0.002},
{"t":0.992,"p":2,"q":0.64,"r":1.21,"s":0.002},{"t":0.996,"p":1.75,"q":0.55,"r":1.05,"s":0.002},
{"t":1,"p":2,"q":0.64,"r":1.21,"s":0.002},{"t":1.004,"p":1.75,"q":0.55,"r":1.05,"s":0.002},
{"t":1.008,"p":2,"q":0.64,"r":1.21,"s":0.002},{"t":1.013,"p":1.75,"q":0.55,"r":1.05,"s":0.002},
{"t":1.017,"p":2,"q":0.64,"r":1.21,"s":0.002},{"t":1.021,"p":1.75,"q":0.55,"r":1.05,"s":0.002},
{"t":1.025,"p":2,"q":0.64,"r":1.21,"s":0.002},{"t":1.029,"p":1.75,"q":0.55,"r":1.05,"s":0.002},
{"t":1.033,"p":2,"q":0.64,"r":1.21,"s":0.002},{"t":1.038,"p":1.75,"q":0.55,"r":1.05,"s":0.002},
{"t":1.042,"p":2,"q":0.64,"r":1.21,"s":0.002},{"t":1.046,"p":1.75,"q":0.55,"r":1.05,"s":0.002},
{"t":1.05,"p":2,"q":0.64,"r":1.21,"s":0.002},{"t":1.054,"p":1.75,"q":0.55,"r":1.05,"s":0.002},
{"t":1.058,"p":2,"q":0.64,"r":1.21,"s":0.002},{"t":1.063,"p":1.75,"q":0.55,"r":1.05,"s":0.002},
{"t":1.067,"p":2,"q":0.64,"r":1.21,"s":0.002},{"t":1.071,"p":1.75,"q":0.55,"r":1.05,"s":0.002},
{"t":1.075,"p":2,"q":0.64,"r":1.21,"s":0.002},{"t":1.079,"p":1.75,"q":0.55,"r":1.05,"s":0.002},
{"t":1.083,"p":2,"q":0.64,"r":1.21,"s":0.002},{"t":1.088,"p":1.75,"q":0.55,"r":1.05,"s":0.002},
{"t":1.092,"p":2,"q":0.64,"r":1.21,"s":0.002},{"t":1.096,"p":1.75,"q":0.55,"r":1.05,"s":0.002},
{"t":1.1,"p":2,"q":0.64,"r":1.21,"s":0.002},{"t":1.104,"p":1.75,"q":0.55,"r":1.05,"s":0.002},
{"t":1.108,"p":2,"q":0.64,"r":1.21,"s":0.002},{"t":1.113,"p":1.75,"q":0.55,"r":1.05,"s":0.002},
{"t":1.117,"p":2,"q":0.64,"r":1.21,"s":0.002},{"t":1.121,"p":1.75,"q":0.55,"r":1.05,"s":0.002},
{"t":1.125,"p":2,"q":0.64,"r":1.21,"s":0.002},{"t":1.129,"p":1.75,"q":0.55,"r":1.05,"s":0.002},
{"t":1.133,"p":2,"q":0.64,"r":1.21,"s":0.002},{"t":1.138,"p":1.75,"q":0.55,"r":1.05,"s":0.002},
{"t":1.142,"p":2,"q":0.64,"r":1.21,"s":0.002},{"t":1.146,"p":1.75,"q":0.55,"r":1.05,"s":0.002},
{"t":1.15,"p":2,"q":0.64,"r":1.21,"s":0.002},{"t":1.154,"p":1.75,"q":0.55,"r":1.05,"s":0.002},
{"t":1.158,"p":2,"q":0.64,"r":1.21,"s":0.002},{"t":1.163,"p":1.75,"q":0.55,"r":1.05,"s":0.002},
{"t":1.167,"p":2,"q":0.64,"r":1.21,"s":0.002},{"t":1.171,"p":1.75,"q":0.55,"r":1.05,"s":0.002},
{"t":1.175,"p":2,"q":0.64,"r":1.21,"s":0.002},{"t":1.179,"p":1.75,"q":0.55,"r":1.05,"s":0.002},
{"t":1.183,"p":2,"q":0.64,"r":1.21,"s":0.002},{"t":1.188,"p":1.75,"q":0.55,"r":1.05,"s":0.002},
{"t":1.192,"p":2,"q":0.64,"r":1.21,"s":0.002},{"t":1.196,"p":1.75,"q":0.55,"r":1.05,"s":0.002},
{"t":1.2,"p":2,"q":0.64,"r":1.21,"s":0.002},{"t":1.204,"p":1.75,"q":0.55,"r":1.05,"s":0.002},
{"t":1.208,"p":2,"q":0.64,"r":1.21,"s":0.002},{"t":1.213,"p":1.75,"q":0.55,"r":1.05,"s":0.002},
{"t":1.217,"p":2,"q":0.64,"r":1.21,"s":0.002},{"t":1.221,"p":1.75,"q":0.55,"r":1.05,"s":0.002},
{"t":1.225,"p":2,"q":0.64,"r":1.21,"s":0.002},{"t":1.229,"p":1.75,"q":0.55,"r":1.05,"s":0.002},
{"t":1.233,"p":2,"q":0.64,"r":1.21,"s":0.002},{"t":1.238,"p":1.75,"q":0.55,"r":1.05,"s":0.002},
{"t":1.242,"p":2,"q":0.64,"r":1.21,"s":0.002},{"t":1.246,"p":1.75,"q":0.55,"r":1.05,"s":0.002},
{"t":1.25,"p":2,"q":0.64,"r":1.21,"s":0.002},{"t":1.254,"p":1.75,"q":0.55,"r":1.05,"s":0.002},
{"t":1.258,"p":2,"q":0.64,"r":1.21,"s":0.002},{"t":1.263,"p":1.75,"q":0.55,"r":1.05,"s":0.002},
{"t":1.267,"p":2,"q":0.64,"r":1.21,"s":0.002},{"t":1.271,"p":1.75,"q":0.55,"r":1.05,"s":0.002},
{"t":1.275,"p":2,"q":0.64,"r":1.21,"s":0.002},{"t":1.279,"p":1.75,"q":0.55,"r":1.05,"s":0.002},
{"t":1.283,"p":2,"q":0.64,"r":1.21,"s":0.002},{"t":1.288,"p":1.75,"q":0.55,"r":1.05,"s":0.002},
{"t":1.292,"p":2,"q":0.64,"r":1.21,"s":0.002},{"t":1.296,"p":1.75,"q":0.55,"r":1.05,"s":0.002},
{"t":1.3,"p":8,"q":0.62,"r":1.1,"s":0.002},{"t":1.304,"p":5,"q":0.5,"r":0.98,"s":0.002},
{"t":1.308,"p":18,"q":0.3,"r":0.8,"s":0.002},{"t":1.313,"p":13,"q":0.12,"r":0.65,"s":0.002},
{"t":1.317,"p":22,"q":-0.05,"r":0.5,"s":0.002},{"t":1.321,"p":20,"q":-0.25,"r":0.38,"s":0.002},
{"t":1.325,"p":25,"q":-0.4,"r":0.28,"s":0.002},{"t":1.329,"p":22.5,"q":-0.52,"r":0.21,"s":0.002},
{"t":1.333,"p":28,"q":-0.62,"r":0.16,"s":0.002},{"t":1.338,"p":24,"q":-0.72,"r":0.11,"s":0.002},
{"t":1.342,"p":30,"q":-0.78,"r":0.07,"s":0.002},{"t":1.346,"p":25,"q":-0.84,"r":0.04,"s":0.002},
{"t":1.35,"p":31,"q":-0.84,"r":0.01,"s":0.002},{"t":1.354,"p":26,"q":-0.92,"r":-0.01,"s":0.002},
{"t":1.358,"p":32,"q":-0.86,"r":-0.03,"s":0.002},{"t":1.363,"p":26.5,"q":-0.97,"r":-0.045,"s":0.002},
{"t":1.367,"p":33,"q":-0.88,"r":-0.055,"s":0.002},{"t":1.371,"p":27,"q":-1,"r":-0.06,"s":0.002},
{"t":1.375,"p":33.5,"q":-0.9,"r":-0.065,"s":0.002},{"t":1.379,"p":27.5,"q":-1.01,"r":-0.07,"s":0.002},
{"t":1.383,"p":34,"q":-0.9,"r":-0.075,"s":0.002},{"t":1.388,"p":27.5,"q":-1.02,"r":-0.078,"s":0.002},
{"t":1.392,"p":34.5,"q":-0.91,"r":-0.08,"s":0.002},{"t":1.396,"p":27.5,"q":-1.02,"r":-0.083,"s":0.002},
{"t":1.4,"p":34.5,"q":-0.91,"r":-0.085,"s":0.002},{"t":1.404,"p":27.5,"q":-1.02,"r":-0.088,"s":0.002},
{"t":1.408,"p":34.5,"q":-0.91,"r":-0.09,"s":0.002},{"t":1.413,"p":27.5,"q":-1.02,"r":-0.09,"s":0.002},
{"t":1.417,"p":34.5,"q":-0.91,"r":-0.09,"s":0.002},{"t":1.421,"p":27.5,"q":-1.02,"r":-0.09,"s":0.002},
{"t":1.425,"p":34.5,"q":-0.91,"r":-0.09,"s":0.002},{"t":1.429,"p":27.5,"q":-1.02,"r":-0.09,"s":0.002},
{"t":1.433,"p":34.5,"q":-0.91,"r":-0.09,"s":0.002},{"t":1.438,"p":27.5,"q":-1.02,"r":-0.09,"s":0.002},
{"t":1.442,"p":34.5,"q":-0.91,"r":-0.09,"s":0.002},{"t":1.446,"p":27.5,"q":-1.02,"r":-0.09,"s":0.002},
{"t":1.45,"p":34.5,"q":-0.91,"r":-0.09,"s":0.002},{"t":1.454,"p":27.5,"q":-1.02,"r":-0.09,"s":0.002},
{"t":1.458,"p":34.5,"q":-0.91,"r":-0.09,"s":0.002},{"t":1.463,"p":27.5,"q":-1.02,"r":-0.09,"s":0.002},
{"t":1.467,"p":34.5,"q":-0.91,"r":-0.09,"s":0.002},{"t":1.471,"p":27.5,"q":-1.02,"r":-0.09,"s":0.002},
{"t":1.475,"p":34.5,"q":-0.91,"r":-0.09,"s":0.002},{"t":1.479,"p":27.5,"q":-1.02,"r":-0.09,"s":0.002},
{"t":1.483,"p":34.5,"q":-0.91,"r":-0.09,"s":0.002},{"t":1.488,"p":27.5,"q":-1.02,"r":-0.09,"s":0.002},
{"t":1.492,"p":34.5,"q":-0.91,"r":-0.09,"s":0.002},{"t":1.496,"p":27.5,"q":-1.02,"r":-0.09,"s":0.002},
{"t":1.5,"p":30,"q":-0.95,"r":-0.09,"s":0.002}
]},
"vconcat":[
{"hconcat":[
{"vconcat":[
{"width":422,"height":157,"title":{"text":"Main : Graphs","anchor":"middle","dx":-10,"offset":5},
"encoding":{"x":{"field":"t","type":"quantitative","scale":{"domain":[0,1.5],"nice":false},"axis":{"orient":"top","title":"■ Current trans-10","titleAnchor":"start","labels":false,"ticks":false,"domain":false,"titlePadding":2,"titleColor":"#10104a"}},"y":{"field":"a","type":"quantitative","scale":{"domain":[-20,20],"nice":false},"axis":{"values":[-20,-15,-10,-5,0,5,10,15,20],"format":".1f","title":"y"}}},
"layer":[
{"data":{"name":"cur"},"mark":"line"},
{"data":{"values":[{"t":1.3,"a":-20,"a2":20}]},"mark":"rule","encoding":{"y2":{"field":"a2"}}},
{"data":{"values":[{"t":1.166,"t2":1.269,"a":0.84},{"t":1.298,"t2":1.486,"a":16.7}]},"mark":"rule","encoding":{"x2":{"field":"t2"}}},
{"data":{"values":[{"t":1.205,"a":3.1,"label":"461A"},{"t":1.393,"a":18.4,"label":"16600A"}]},"mark":{"type":"text","baseline":"middle","align":"center"},"encoding":{"text":{"field":"label"}}}
]},
{"width":422,"height":157,"title":{"text":"■ Power trans-10","anchor":"start","offset":2,"color":"#10104a"},
"encoding":{"x":{"field":"t","type":"quantitative","scale":{"domain":[0,1.5],"nice":false},"axis":{"values":[0,0.2,0.4,0.6,0.8,1,1.2,1.4],"format":".2f","title":"(a) Current and power flow through Meter_trans_10","titleFont":"Liberation Serif","titleFontSize":21,"titleColor":"#000","titlePadding":54}},"y":{"field":"p","type":"quantitative","scale":{"domain":[0,35],"nice":false},"axis":{"values":[0,5,10,15,20,25,30,35],"format":".1f","title":"y"}}},
"layer":[
{"data":{"name":"pw"},"mark":"line"},
{"data":{"values":[{"t":1.3,"p":0,"p2":35}]},"mark":"rule","encoding":{"y2":{"field":"p2"}}},
{"data":{"values":[{"t":1.258,"p":-2.45,"label":"Short circuit fault\nhappens @ 1.3 sec"}]},"mark":{"type":"text","baseline":"top","align":"center","lineBreak":"\n","lineHeight":24},"encoding":{"text":{"field":"label"}}}
]}
],"spacing":17,"bounds":"flush"},
{"vconcat":[
{"width":458,"height":157,"title":{"text":"Main : Graphs","anchor":"middle","dx":-10,"offset":5},
"encoding":{"x":{"field":"t","type":"quantitative","scale":{"domain":[0,1.6],"nice":false},"axis":{"orient":"top","title":"■ Current 10-11","titleAnchor":"start","labels":false,"ticks":false,"domain":false,"titlePadding":2,"titleColor":"#10104a"}},"y":{"field":"b","type":"quantitative","scale":{"domain":[-1,1],"nice":false},"axis":{"values":[-1,-0.8,-0.6,-0.4,-0.2,0,0.2,0.4,0.6,0.8,1],"format":".2f","title":"y"}}},
"layer":[
{"data":{"name":"cur"},"mark":"line"},
{"data":{"values":[{"t":1.3,"b":-1,"b2":1}]},"mark":"rule","encoding":{"y2":{"field":"b2"}}},
{"data":{"values":[{"t":1.105,"t2":1.29,"b":0.185},{"t":1.303,"t2":1.495,"b":0.82}]},"mark":"rule","encoding":{"x2":{"field":"t2"}}},
{"data":{"values":[{"t":1.191,"b":0.287,"label":"158A"},{"t":1.401,"b":0.91,"label":"802A"}]},"mark":{"type":"text","baseline":"middle","align":"center"},"encoding":{"text":{"field":"label"}}}
]},
{"width":458,"height":157,"title":{"text":"■ Power 10-11","anchor":"start","offset":2,"color":"#10104a"},
"encoding":{"x":{"field":"t","type":"quantitative","scale":{"domain":[0,1.6],"nice":false},"axis":{"values":[0,0.2,0.4,0.6,0.8,1,1.2,1.4,1.6],"format":".2f","title":"(b) Current and power flow through Meter_10_11","titleFont":"Liberation Serif","titleFontSize":21,"titleColor":"#000","titlePadding":54}},"y":{"field":"q","type":"quantitative","scale":{"domain":[-1.25,1],"nice":false},"axis":{"values":[-1.25,-1,-0.75,-0.5,-0.25,0,0.25,0.5,0.75,1],"format":".2f","title":"y"}}},
"layer":[
{"data":{"name":"pw"},"mark":"line"},
{"data":{"values":[{"t":1.3,"q":-1.25,"q2":1}]},"mark":"rule","encoding":{"y2":{"field":"q2"}}},
{"data":{"values":[{"t":1.31,"q":-1.45,"label":"Short circuit fault\n@ 1.3 sec"}]},"mark":{"type":"text","baseline":"top","align":"center","lineBreak":"\n","lineHeight":23},"encoding":{"text":{"field":"label"}}}
]}
],"spacing":17,"bounds":"flush"}
],"spacing":150},
{"hconcat":[
{"vconcat":[
{"width":422,"height":157,"title":{"text":"Main : Graphs","anchor":"middle","dx":-10,"offset":5},
"encoding":{"x":{"field":"t","type":"quantitative","scale":{"domain":[0,1.6],"nice":false},"axis":{"orient":"top","title":"■ Current 10-15","titleAnchor":"start","labels":false,"ticks":false,"domain":false,"titlePadding":2,"titleColor":"#10104a"}},"y":{"field":"c","type":"quantitative","scale":{"domain":[-1,1],"nice":false},"axis":{"values":[-1,-0.8,-0.6,-0.4,-0.2,0,0.2,0.4,0.6,0.8,1],"format":".2f","title":"y"}}},
"layer":[
{"data":{"name":"cur"},"mark":"line"},
{"data":{"values":[{"t":0.71,"c":-1,"c2":1},{"t":1.3,"c":-1,"c2":1}]},"mark":"rule","encoding":{"y2":{"field":"c2"}}},
{"data":{"values":[{"t":1.137,"t2":1.285,"c":0.274},{"t":1.342,"t2":1.475,"c":0.83}]},"mark":"rule","encoding":{"x2":{"field":"t2"}}},
{"data":{"values":[{"t":1.209,"c":0.376,"label":"258A"},{"t":1.407,"c":0.92,"label":"815A"}]},"mark":{"type":"text","baseline":"middle","align":"center"},"encoding":{"text":{"field":"label"}}}
]},
{"width":422,"height":157,"title":{"text":"■ Power 10-15","anchor":"start","offset":2,"color":"#10104a"},
"encoding":{"x":{"field":"t","type":"quantitative","scale":{"domain":[0,1.6],"nice":false},"axis":{"values":[0,0.2,0.4,0.6,0.8,1,1.2,1.4,1.6],"format":".2f","title":"(c) Current and power flow through Meter_10_15","titleFont":"Liberation Serif","titleFontSize":21,"titleColor":"#000","titlePadding":31}},"y":{"field":"r","type":"quantitative","scale":{"domain":[-0.2,1.4],"nice":false},"axis":{"values":[-0.2,0,0.2,0.4,0.6,0.8,1,1.2,1.4],"format":".2f","title":"y"}}},
"layer":[
{"data":{"name":"pw"},"mark":"line"},
{"data":{"values":[{"t":0.71,"r":-0.2,"r2":1.4},{"t":1.3,"r":-0.2,"r2":1.4}]},"mark":"rule","encoding":{"y2":{"field":"r2"}}},
{"data":{"values":[{"t":0.364,"r":0.575,"label":"Over current @ 0.7 sec,\nbut trip command is\nredirected"},{"t":1.001,"r":0.381,"label":"Feeder overheat and\nmelt, short circuit fault\nhappens @ 1.3 sec"}]},"mark":{"type":"text","baseline":"top","align":"left","lineBreak":"\n","lineHeight":22.5},"encoding":{"text":{"field":"label"}}}
]}
],"spacing":17,"bounds":"flush"},
{"vconcat":[
{"width":458,"height":157,"title":{"text":"Main : Graphs","anchor":"middle","dx":-10,"offset":5},
"encoding":{"x":{"field":"t","type":"quantitative","scale":{"domain":[0,1.5],"nice":false},"axis":{"orient":"top","title":"■ Section 3 Current","titleAnchor":"start","labels":false,"ticks":false,"domain":false,"titlePadding":2,"titleColor":"#10104a"}},"y":{"field":"d","type":"quantitative","scale":{"domain":[-0.3,0.3],"nice":false},"axis":{"values":[-0.3,-0.2,-0.1,0,0.1,0.2,0.3],"format":".2f","title":"y"}}},
"layer":[
{"data":{"name":"cur"},"mark":"line"},
{"data":{"values":[{"t":0.705,"d":-0.3,"d2":0.3}]},"mark":"rule","encoding":{"y2":{"field":"d2"}}}
]},
{"width":458,"height":157,"title":{"text":"■ Section 3 Power","anchor":"start","offset":2,"color":"#10104a"},
"encoding":{"x":{"field":"t","type":"quantitative","scale":{"domain":[0,1.5],"nice":false},"axis":{"values":[0,0.2,0.4,0.6,0.8,1,1.2,1.4],"format":".2f","title":"(d) Current and power flow through Meter of section 3","titleFont":"Liberation Serif","titleFontSize":21,"titleColor":"#000","titlePadding":31}},"y":{"field":"s","type":"quantitative","scale":{"domain":[0,0.5],"nice":false},"axis":{"values":[0,0.1,0.2,0.3,0.4,0.5],"format":".2f","title":"y"}}},
"layer":[
{"data":{"name":"pw"},"mark":"line"},
{"data":{"values":[{"t":0.705,"s":0,"s2":0.5}]},"mark":"rule","encoding":{"y2":{"field":"s2"}}},
{"data":{"values":[{"t":0.724,"s":0.213,"label":"Under normal operation, but\ntripped because of redirected\ncommand @ 0.7sec"}]},"mark":{"type":"text","baseline":"top","align":"center","lineBreak":"\n","lineHeight":22.5},"encoding":{"text":{"field":"label"}}}
]}
],"spacing":17,"bounds":"flush"}
],"spacing":152}
],"spacing":26}
